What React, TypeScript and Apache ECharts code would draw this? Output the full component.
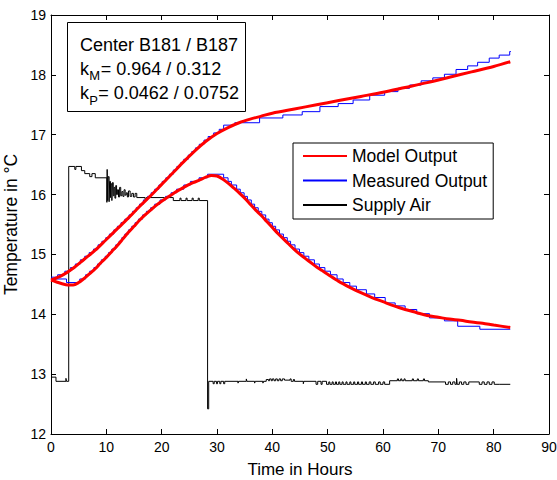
import React, { useEffect, useRef } from "react";
import * as echarts from "echarts";

const FONT = "'Liberation Sans', Arial, Helvetica, sans-serif";

// Axis ranges / ticks
const xRange = [0, 90];
const xStep = 10;
const yRange = [12, 19];
const yStep = 1;

const legendNames = ["Model Output", "Measured Output", "Supply Air"];

// Model output (red), [hour, °C]
const modelUpper: [number, number][] = [
  [0, 14.57], [2, 14.65], [4, 14.77], [6, 14.92], [8, 15.07], [10, 15.25], [12, 15.43], [14, 15.61],
  [16, 15.8], [18, 15.98], [20, 16.17], [22, 16.36], [24, 16.55], [26, 16.73], [28, 16.89], [30, 17.02],
  [32, 17.12], [34, 17.2], [36, 17.26], [38, 17.31], [40, 17.36], [44, 17.43], [48, 17.5], [52, 17.57],
  [56, 17.64], [60, 17.71], [64, 17.79], [68, 17.87], [72, 17.96], [76, 18.05], [80, 18.14], [83, 18.22],
];

const modelLower: [number, number][] = [
  [0, 14.57], [1, 14.54], [2, 14.51], [3, 14.49], [4, 14.49], [5, 14.53], [6, 14.6], [7, 14.68],
  [8, 14.76], [9, 14.86], [10, 14.95], [11, 15.05], [12, 15.15], [13, 15.26], [14, 15.37], [15, 15.47],
  [16, 15.57], [17, 15.66], [18, 15.74], [19, 15.82], [20, 15.89], [21, 15.95], [22, 16.01], [23, 16.07],
  [24, 16.12], [25, 16.17], [26, 16.21], [27, 16.25], [28, 16.29], [29, 16.32], [30, 16.31], [31, 16.26],
  [32, 16.19], [33, 16.11], [34, 16.03], [35, 15.94], [36, 15.84], [37, 15.74], [38, 15.65], [39, 15.55],
  [40, 15.45], [41, 15.35], [42, 15.26], [43, 15.17], [44, 15.08], [45, 15.0], [46, 14.93], [47, 14.86],
  [48, 14.79], [49, 14.73], [50, 14.67], [52, 14.55], [54, 14.45], [56, 14.36], [58, 14.28], [60, 14.21],
  [62, 14.14], [64, 14.08], [66, 14.03], [68, 13.98], [70, 13.95], [72, 13.92], [74, 13.9], [76, 13.87],
  [78, 13.85], [80, 13.82], [83, 13.78],
];

// Measured output (blue, stepped), [hour, °C]
const measuredUpper: [number, number][] = [
  [0, 14.62], [1.2, 14.66], [2.5, 14.72], [3.5, 14.78], [4.4, 14.84], [5.3, 14.91], [6.1, 14.97],
  [6.9, 15.03], [7.7, 15.09], [8.5, 15.16], [9.2, 15.22], [9.9, 15.28], [10.55, 15.34], [11.35, 15.41],
  [12.0, 15.47], [12.65, 15.53], [13.35, 15.59], [14.1, 15.66], [14.75, 15.72], [15.4, 15.78],
  [16.0, 15.84], [16.7, 15.91], [17.45, 15.97], [18.1, 16.03], [18.75, 16.09], [19.5, 16.16],
  [20.1, 16.22], [20.75, 16.28], [21.4, 16.34], [22.1, 16.41], [22.75, 16.47], [23.4, 16.53],
  [24.0, 16.59], [24.8, 16.66], [25.45, 16.72], [26.1, 16.78], [26.8, 16.84], [27.65, 16.91],
  [28.4, 16.97], [29.4, 17.03], [30.4, 17.09], [31.2, 17.16], [33.2, 17.2], [37.7, 17.28],
  [41.9, 17.33], [45.4, 17.385], [48.6, 17.47], [51.9, 17.52], [54.6, 17.58], [57.6, 17.66],
  [60.3, 17.72], [62.7, 17.775], [64.8, 17.83], [66.9, 17.9], [69.0, 17.95], [71.1, 18.01],
  [73.2, 18.09], [75.3, 18.15], [77.1, 18.21], [79.2, 18.28], [81.0, 18.33], [82.9, 18.39], [83.1, 18.39],
];

const measuredLower: [number, number][] = [
  [0, 14.59], [2.8, 14.53], [5.2, 14.59], [6.25, 14.66], [7.0, 14.72], [7.75, 14.78], [8.4, 14.84],
  [9.1, 14.91], [9.8, 14.97], [10.4, 15.03], [11.0, 15.09], [11.7, 15.16], [12.3, 15.22], [12.8, 15.28],
  [13.35, 15.34], [14.0, 15.41], [14.6, 15.47], [15.2, 15.53], [15.8, 15.59], [16.55, 15.66],
  [17.25, 15.72], [18.0, 15.78], [18.75, 15.84], [19.7, 15.91], [20.7, 15.97], [21.7, 16.03],
  [22.7, 16.09], [24.0, 16.16], [25.2, 16.22], [26.75, 16.28], [28.3, 16.34], [31.2, 16.28],
  [32.0, 16.22], [32.6, 16.16], [33.55, 16.09], [34.2, 16.03], [34.9, 15.97], [35.5, 15.91],
  [36.2, 15.84], [36.8, 15.78], [37.45, 15.72], [38.1, 15.66], [38.8, 15.59], [39.4, 15.53],
  [40.0, 15.47], [40.6, 15.41], [41.3, 15.34], [42.0, 15.28], [42.7, 15.22], [43.3, 15.16],
  [44.1, 15.09], [44.9, 15.03], [45.7, 14.97], [46.6, 14.91], [47.6, 14.84], [48.5, 14.78],
  [49.5, 14.72], [50.5, 14.66], [51.7, 14.59], [52.8, 14.53], [54.0, 14.47], [55.2, 14.41],
  [57.0, 14.34], [58.5, 14.28], [60.4, 14.19], [62.2, 14.14], [64.0, 14.08], [66.1, 14.01],
  [68.4, 13.94], [71.1, 13.89], [73.5, 13.8], [77.5, 13.75], [83.0, 13.75],
];

// Supply air (black, stepped), [hour, °C]
const supplyAir: [number, number][] = [
  [0, 12.95], [0.9, 12.88], [2.7, 12.93], [2.8, 12.88], [3.2, 16.47], [4.3, 16.42], [4.5, 16.47],
  [5.5, 16.4], [6.1, 16.35], [7.0, 16.3], [7.4, 16.35], [8.0, 16.28], [10.1, 15.87], [10.15, 16.42],
  [10.25, 15.9], [10.35, 16.3], [10.5, 15.88], [10.6, 16.22], [10.75, 15.95], [10.85, 16.18],
  [11.0, 15.9], [11.1, 16.2], [11.25, 15.98], [11.4, 16.12], [11.55, 15.94], [11.7, 16.15],
  [11.85, 16.0], [12.0, 16.08], [12.2, 15.96], [12.4, 16.12], [12.6, 15.98], [12.8, 16.05], [13.0, 15.97],
  [13.2, 16.08], [13.4, 15.99], [13.6, 16.03], [13.8, 15.96], [14.0, 16.06], [14.3, 15.97],
  [14.6, 16.02], [14.9, 15.96], [15.2, 16.02], [15.5, 15.95], [17.0, 15.92], [17.2, 15.95],
  [20.5, 15.92], [20.7, 15.95], [22.1, 15.9], [23.3, 15.94], [23.5, 15.9], [24.4, 15.94], [24.6, 15.9],
  [25.5, 15.94], [25.7, 15.9], [26.6, 15.94], [26.8, 15.9], [28.3, 12.42], [28.5, 12.88],
  [29.3, 12.84], [29.5, 12.88], [29.9, 12.84], [30.1, 12.88], [30.5, 12.84], [30.7, 12.88],
  [31.2, 12.84], [31.4, 12.88], [33.8, 12.85], [33.9, 12.88], [35.3, 12.92], [35.4, 12.88],
  [36.8, 12.85], [36.9, 12.88], [38.3, 12.85], [38.4, 12.88], [38.9, 12.91], [39.3, 12.89],
  [39.5, 12.92], [39.8, 12.89], [40.0, 12.92], [40.3, 12.89], [40.6, 12.92], [40.9, 12.89],
  [41.2, 12.92], [41.5, 12.89], [41.8, 12.92], [42.2, 12.9], [43.2, 12.92], [43.4, 12.88],
  [43.8, 12.91], [44.0, 12.88], [45.6, 12.84], [45.7, 12.88], [47.9, 12.83], [48.2, 12.88],
  [48.8, 12.83], [49.0, 12.88], [49.8, 12.83], [50.2, 12.87], [50.4, 12.83], [50.8, 12.87],
  [51.0, 12.83], [51.4, 12.87], [51.6, 12.83], [52.0, 12.87], [52.2, 12.83], [52.6, 12.87],
  [52.8, 12.83], [53.3, 12.87], [53.5, 12.83], [54.0, 12.87], [54.2, 12.83], [54.7, 12.87],
  [54.9, 12.83], [55.4, 12.87], [55.6, 12.83], [56.1, 12.87], [56.3, 12.83], [56.8, 12.87],
  [57.0, 12.83], [57.5, 12.87], [57.8, 12.83], [58.3, 12.87], [58.6, 12.83], [59.2, 12.87],
  [59.5, 12.83], [60.0, 12.87], [60.3, 12.83], [61.2, 12.89], [62.6, 12.92], [62.8, 12.89],
  [63.2, 12.92], [63.4, 12.89], [63.8, 12.92], [64.0, 12.89], [65.3, 12.92], [65.5, 12.89],
  [66.2, 12.92], [66.4, 12.89], [67.3, 12.92], [67.5, 12.89], [68.2, 12.87], [71.3, 12.83],
  [71.8, 12.87], [72.2, 12.83], [72.6, 12.87], [73.0, 12.83], [73.3, 12.93], [73.4, 12.83],
  [73.8, 12.87], [74.2, 12.83], [74.6, 12.87], [75.0, 12.83], [75.5, 12.87], [77.4, 12.83],
  [77.9, 12.87], [78.3, 12.83], [78.8, 12.87], [79.2, 12.83], [79.7, 12.87], [80.1, 12.83],
  [81.0, 12.83], [83.0, 12.83],
];

const annotationTitle = "Center B181 / B187";
const kM = "= 0.964 / 0.312";
const kP = "= 0.0462 / 0.0752";

export default function App() {
  const ref = useRef<HTMLDivElement>(null);

  useEffect(() => {
    if (!ref.current) return;
    const chart = echarts.init(ref.current, null, { renderer: "svg" });

    const axisCommon: any = {
      type: "value",
      axisLine: { show: true, onZero: false, lineStyle: { color: "#000", width: 1 } },
      axisTick: { show: true, inside: true, length: 5, lineStyle: { color: "#000", width: 1 } },
      splitLine: { show: false },
    };
    const labelStyle = { color: "#000", fontSize: 14, fontFamily: FONT };
    const txt = (text: string, x: number, y: number, size: number) => ({
      type: "text",
      x,
      y,
      z: 101,
      style: { text, fontSize: size, fontFamily: FONT, fill: "#000", verticalAlign: "middle", align: "left" },
    });

    const lineSeries = (name: string, data: any, color: string, width: number, step: any, z: number) => ({
      type: "line",
      name,
      data,
      step,
      smooth: step ? false : 0.3,
      symbol: "none",
      showSymbol: false,
      z,
      lineStyle: { color, width },
      itemStyle: { color },
    });

    chart.setOption({
      animation: false,
      backgroundColor: "#fff",
      grid: { left: 51, right: 8, top: 15, bottom: 46, outerBoundsMode: "none", containLabel: false },
      xAxis: [
        {
          ...axisCommon,
          min: xRange[0],
          max: xRange[1],
          interval: xStep,
          position: "bottom",
          axisLabel: { ...labelStyle, margin: 6 },
          name: "Time in Hours",
          nameLocation: "middle",
          nameGap: 27,
          nameTextStyle: { color: "#000", fontSize: 17, fontFamily: FONT },
        },
        {
          ...axisCommon,
          min: xRange[0],
          max: xRange[1],
          interval: xStep,
          position: "top",
          axisLabel: { show: false },
        },
      ],
      yAxis: [
        {
          ...axisCommon,
          min: yRange[0],
          max: yRange[1],
          interval: yStep,
          position: "left",
          axisLabel: { ...labelStyle, margin: 5 },
          name: "Temperature in °C",
          nameLocation: "middle",
          nameGap: 30,
          nameTextStyle: { color: "#000", fontSize: 17.5, fontFamily: FONT },
        },
        {
          ...axisCommon,
          min: yRange[0],
          max: yRange[1],
          interval: yStep,
          position: "right",
          axisLabel: { show: false },
        },
      ],
      legend: {
        orient: "vertical",
        left: 293,
        top: 143,
        data: legendNames,
        itemWidth: 44,
        itemHeight: 14,
        itemGap: 6.5,
        padding: [4, 6, 5, 9],
        backgroundColor: "#fff",
        borderColor: "#000",
        borderWidth: 1,
        borderRadius: 0,
        selectedMode: false,
        itemStyle: { opacity: 0 },
        textStyle: { color: "#000", fontSize: 17.5, fontFamily: FONT, lineHeight: 18 },
      },
      graphic: [
        {
          type: "rect",
          z: 100,
          shape: { x: 67.5, y: 22.5, width: 178, height: 89 },
          style: { fill: "#fff", stroke: "#000", lineWidth: 1 },
        },
        txt(annotationTitle, 80, 45.3, 18),
        txt("k", 80, 68.5, 18),
        txt("M", 89.3, 75.8, 13),
        txt(kM, 100.7, 68.5, 18),
        txt("k", 80, 92.8, 18),
        txt("P", 89.3, 100.3, 13),
        txt(kP, 98.3, 92.8, 18),
      ],
      series: [
        lineSeries("Supply Air", supplyAir, "#000000", 1, "end", 2),
        lineSeries("Measured Output", measuredUpper, "#0000ff", 1, "end", 3),
        lineSeries("Measured Output", measuredLower, "#0000ff", 1, "end", 3),
        lineSeries("Model Output", modelUpper, "#ff0000", 3, false, 4),
        lineSeries("Model Output", modelLower, "#ff0000", 3, false, 4),
      ],
    });

    return () => chart.dispose();
  }, []);

  return <div ref={ref} style={{ position: "fixed", left: 0, top: 0, width: 557, height: 480 }} />;
}
